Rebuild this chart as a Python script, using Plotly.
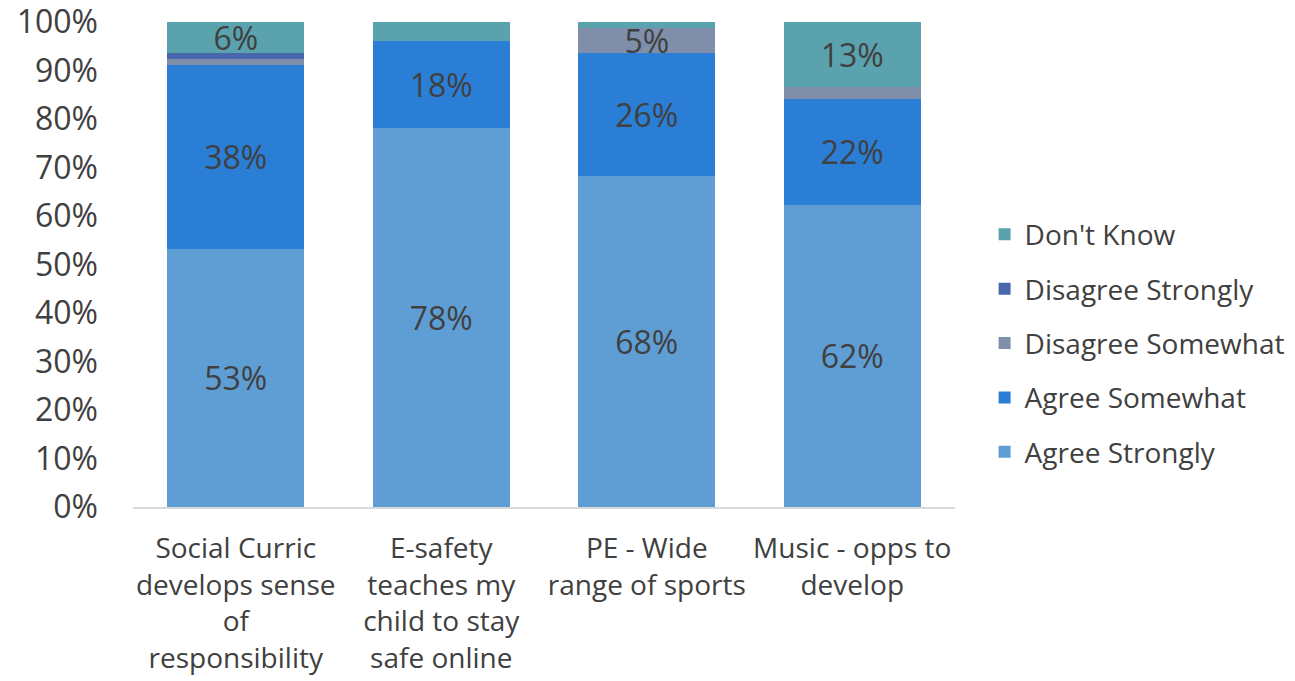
import plotly.graph_objects as go

CATEGORIES = [
    "Social Curric<br>develops sense<br>of<br>responsibility",
    "E-safety<br>teaches my<br>child to stay<br>safe online",
    "PE - Wide<br>range of sports",
    "Music - opps to<br>develop",
]

AGREE_STRONGLY = [53.2, 78.1, 68.2, 62.3]
AGREE_SOMEWHAT = [38.0, 18.0, 25.5, 21.8]
DISAGREE_SOMEWHAT = [1.1, 0.0, 5.0, 2.5]
DISAGREE_STRONGLY = [1.4, 0.0, 0.0, 0.0]
DONT_KNOW = [6.3, 3.9, 1.3, 13.4]

# segments below this share are left unlabelled
LABEL_MIN = 4.5

SERIES = [
    ("Agree Strongly", AGREE_STRONGLY, "#5F9ED4"),
    ("Agree Somewhat", AGREE_SOMEWHAT, "#2A7ED6"),
    ("Disagree Somewhat", DISAGREE_SOMEWHAT, "#7F8FA9"),
    ("Disagree Strongly", DISAGREE_STRONGLY, "#4967AD"),
    ("Don't Know", DONT_KNOW, "#5AA3AE"),
]

FONT = "Open Sans"
TEXT_COLOR = "#404040"

fig = go.Figure()
for i, (name, vals, color) in enumerate(SERIES):
    labels = [f"{v:.0f}%" if v >= LABEL_MIN else "" for v in vals]
    fig.add_trace(
        go.Bar(
            name=name,
            legendgroup=name,
            legendrank=1000 - i,  # top of the stack first in the legend
            x=CATEGORIES,
            y=vals,
            marker=dict(color=color, line=dict(width=0)),
            text=labels,
            textposition="inside",
            insidetextanchor="middle",
            textangle=0,
            textfont=dict(family=FONT, size=32, color=TEXT_COLOR),
            hovertemplate="%{x}<br>" + name + ": %{y:.0f}%<extra></extra>",
        )
    )

# the page body adds an 8px offset, so the figure is 8px smaller than the window
fig.update_layout(
    barmode="stack",
    bargap=0.333,
    width=1287,
    height=673,
    margin=dict(l=125, r=340, t=14, b=174, autoexpand=False),
    paper_bgcolor="white",
    plot_bgcolor="white",
    font=dict(family=FONT, color=TEXT_COLOR),
    uniformtext=dict(minsize=32, mode="show"),
    showlegend=True,
    legend=dict(
        x=1.036,
        y=0.338,
        xanchor="left",
        yanchor="middle",
        traceorder="grouped",
        font=dict(family=FONT, size=28, color=TEXT_COLOR),
        itemwidth=30,
        tracegroupgap=15,
    ),
    xaxis=dict(
        automargin=False,
        showline=True,
        linecolor="#D9D9D9",
        linewidth=1.5,
        ticks="",
        tickfont=dict(family=FONT, size=28, color=TEXT_COLOR),
        ticklabelstandoff=16,
        showgrid=False,
    ),
    yaxis=dict(
        automargin=False,
        range=[0, 100],
        dtick=10,
        ticksuffix="%",
        showgrid=False,
        showline=False,
        zeroline=False,
        tickfont=dict(family=FONT, size=32, color=TEXT_COLOR),
        ticklabelstandoff=34,
        ticklabeloverflow="allow",
    ),
)

fig.write_html("out.html")
